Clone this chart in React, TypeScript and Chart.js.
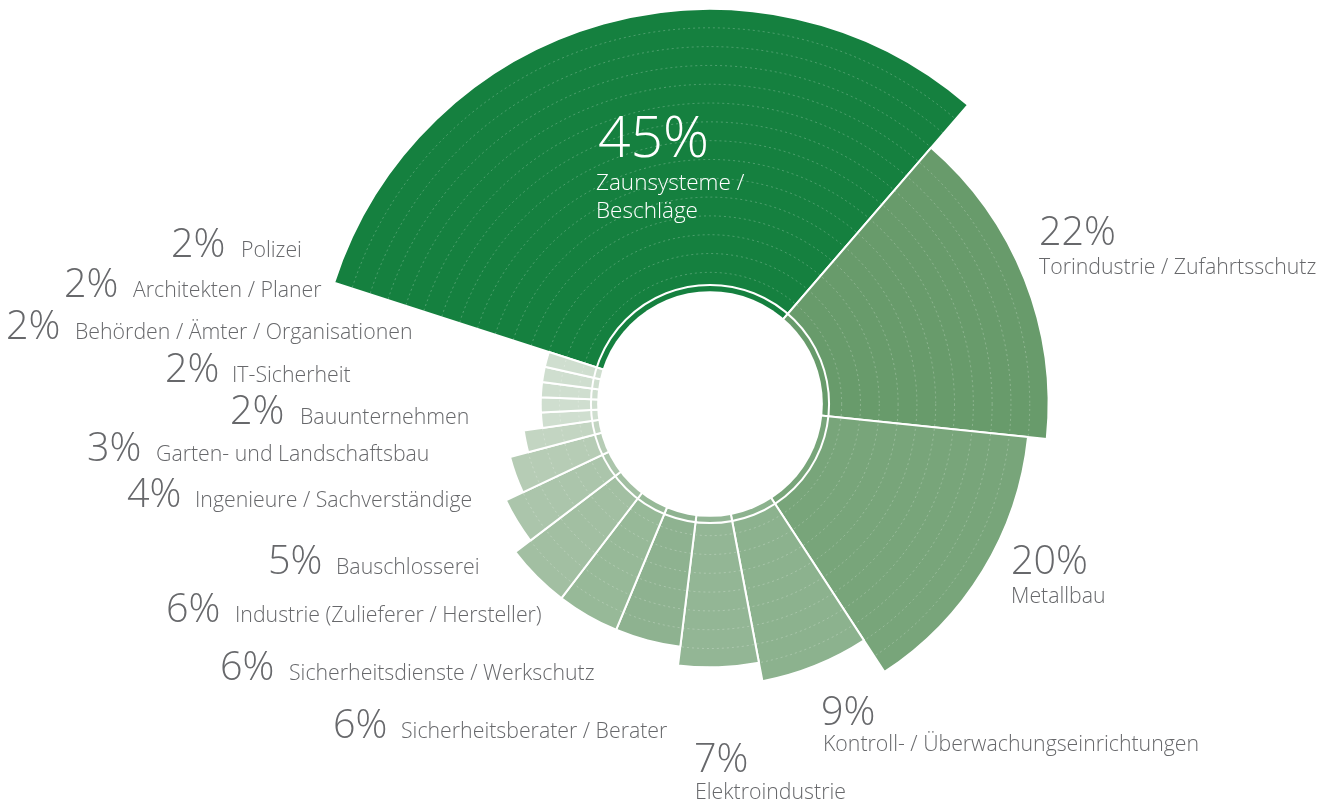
import React, { useEffect, useRef } from 'react';
import { Chart, registerables } from 'chart.js';

Chart.register(...registerables);

// ---- data ----
const categories: (string | string[])[] = [
  ['Zaunsysteme /', 'Beschläge'],
  'Torindustrie / Zufahrtsschutz',
  'Metallbau',
  'Kontroll- / Überwachungseinrichtungen',
  'Elektroindustrie',
  'Sicherheitsberater / Berater',
  'Sicherheitsdienste / Werkschutz',
  'Industrie (Zulieferer / Hersteller)',
  'Bauschlosserei',
  'Ingenieure / Sachverständige',
  'Garten- und Landschaftsbau',
  'Bauunternehmen',
  'IT-Sicherheit',
  'Behörden / Ämter / Organisationen',
  'Architekten / Planer',
  'Polizei',
];

const percentages = [45, 22, 20, 9, 7, 6, 6, 6, 5, 4, 3, 2, 2, 2, 2, 2];

// angular share of each slice as measured on the picture
const sliceShares = [43.4, 21.2, 19.6, 8.6, 6.8, 6.0, 5.7, 5.9, 4.6, 4.0, 2.6, 2, 2, 2, 2, 2];

// radial length of each slice, in ring steps beyond the inner hole
const radiusLevels = [15, 12, 11, 9, 8, 7, 7, 7, 6, 5, 4, 3, 3, 3, 3, 3];

// ---- styles ----
const segmentColors = [
  '#15803f',
  '#689b6b',
  '#78a57a',
  '#8cb28e',
  '#93b695',
  '#8eb290',
  '#97b998',
  '#a2bfa2',
  '#abc5ab',
  '#b6ccb5',
  '#c3d5c2',
  '#cfdecf',
  '#cfdecf',
  '#cfdecf',
  '#cfdecf',
  '#cfdecf',
];

const SCALE_MIN = -6;
const SCALE_MAX = 15;
const START_ANGLE = 287.9;
const HOLE_VALUE = 0;
const GAP_VALUE = 0.33;

const TEXT_GREY = '#67686b';
const FONT = "'Open Sans', 'Noto Sans', sans-serif";

// label layout (page pixels): pct x, pct baseline, label x, label baseline
type Lay = { px: number; py: number; lx: number; ly: number; white?: boolean; big?: boolean };
const labelLayout: Lay[] = [
  { px: 598, py: 157, lx: 596, ly: 190, white: true, big: true },
  { px: 1039, py: 245, lx: 1039, ly: 274 },
  { px: 1011, py: 574, lx: 1011, ly: 603 },
  { px: 821, py: 725, lx: 823, ly: 751 },
  { px: 694, py: 772, lx: 695, ly: 799 },
  { px: 333, py: 738, lx: 401, ly: 738 },
  { px: 220, py: 680, lx: 289, ly: 680 },
  { px: 166, py: 622, lx: 235, ly: 622 },
  { px: 268, py: 574, lx: 336, ly: 574 },
  { px: 127, py: 507, lx: 195, ly: 507 },
  { px: 87, py: 461, lx: 156, ly: 461 },
  { px: 230, py: 424, lx: 300, ly: 424 },
  { px: 165, py: 382, lx: 232, ly: 382 },
  { px: 6, py: 339, lx: 75, ly: 339 },
  { px: 64, py: 297, lx: 133, ly: 297 },
  { px: 171, py: 257, lx: 241, ly: 257 },
];

const shareTotal = sliceShares.reduce((a, b) => a + b, 0);
const sliceAngles = sliceShares.map((s) => (s / shareTotal) * 360);

const holePlugin = {
  id: 'hole',
  afterDatasetsDraw(chart: any) {
    const s = chart.scales.r;
    const ctx = chart.ctx;
    ctx.save();
    ctx.fillStyle = '#ffffff';
    ctx.beginPath();
    ctx.arc(s.xCenter, s.yCenter, s.getDistanceFromCenterForValue(HOLE_VALUE), 0, Math.PI * 2);
    ctx.fill();
    ctx.strokeStyle = '#ffffff';
    ctx.lineWidth = 2;
    ctx.beginPath();
    ctx.arc(s.xCenter, s.yCenter, s.getDistanceFromCenterForValue(GAP_VALUE), 0, Math.PI * 2);
    ctx.stroke();
    ctx.restore();
  },
};

const labelPlugin = {
  id: 'sliceLabels',
  afterDraw(chart: any) {
    const ctx = chart.ctx;
    ctx.save();
    ctx.textBaseline = 'alphabetic';
    ctx.textAlign = 'left';
    categories.forEach((cat, i) => {
      const lay = labelLayout[i];
      ctx.fillStyle = lay.white ? '#ffffff' : TEXT_GREY;
      ctx.font = `300 ${lay.big ? 57 : 39.5}px ${FONT}`;
      ctx.fillText(`${percentages[i]}%`, lay.px, lay.py);
      ctx.font = `300 ${lay.big ? 22.5 : 21.3}px ${FONT}`;
      const lines = Array.isArray(cat) ? cat : [cat];
      lines.forEach((ln, k) => ctx.fillText(ln, lay.lx, lay.ly + k * 28));
    });
    ctx.restore();
  },
};

export default function App() {
  const ref = useRef<HTMLCanvasElement | null>(null);
  useEffect(() => {
    if (!ref.current) return;
    const chart = new Chart(ref.current, {
      type: 'polarArea',
      data: {
        labels: categories as any,
        datasets: [
          {
            data: radiusLevels,
            backgroundColor: segmentColors,
            borderColor: '#ffffff',
            borderWidth: 2,
            angle: sliceAngles,
          } as any,
        ],
      },
      options: {
        animation: false,
        responsive: true,
        maintainAspectRatio: false,
        events: [],
        layout: { padding: { left: 92, right: 0, top: 9, bottom: 8 } },
        plugins: { legend: { display: false }, tooltip: { enabled: false } },
        scales: {
          r: {
            min: SCALE_MIN,
            max: SCALE_MAX,
            startAngle: START_ANGLE,
            ticks: { display: false, stepSize: 1, z: 1 },
            grid: {
              z: 1,
              circular: true,
              lineWidth: 0.8,
              color: (c: any) =>
                c.tick && c.tick.value >= 1 && c.tick.value < SCALE_MAX
                  ? 'rgba(255,255,255,0.3)'
                  : 'rgba(0,0,0,0)',
            },
            border: { dash: [2, 3] },
            angleLines: { display: false },
            pointLabels: { display: false },
          } as any,
        },
      },
      plugins: [holePlugin, labelPlugin],
    });
    return () => chart.destroy();
  }, []);
  return (
    <div style={{ position: 'fixed', left: 0, top: 0, width: 1329, height: 807, background: '#fff' }}>
      <canvas ref={ref} />
    </div>
  );
}
